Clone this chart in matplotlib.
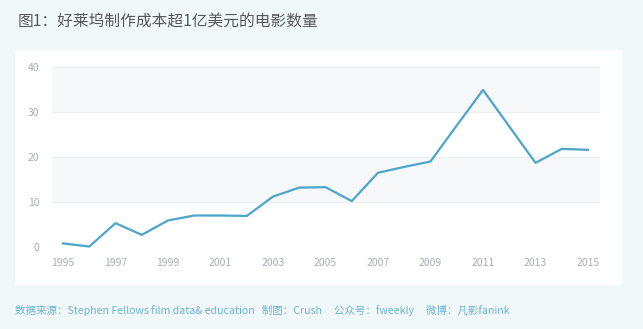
import matplotlib.pyplot as plt
from matplotlib.patches import Rectangle

plt.rcParams['font.family'] = ['Noto Sans CJK SC', 'DejaVu Sans']

years = list(range(1995, 2016))
counts = [0.8, 0.1, 5.3, 2.7, 5.9, 7.0, 7.0, 6.9, 11.2, 13.2, 13.3, 10.2,
          16.5, 17.8, 19.0, 27.0, 34.9, 26.8, 18.7, 21.8, 21.6]
yticks = [0, 10, 20, 30, 40]
xticks = list(range(1995, 2016, 2))

title = '图1：好莱坞制作成本超1亿美元的电影数量'
footer = '数据来源：Stephen Fellows film data& education   制图：Crush     公众号：fweekly     微博：凡影fanink'

W, H = 643, 329
fig = plt.figure(figsize=(W / 100, H / 100), dpi=100)
fig.patch.set_facecolor('#f1f8fa')

# white panel
fig.patches.append(Rectangle((15 / W, 1 - 285 / H), 607 / W, 235 / H,
                             transform=fig.transFigure, facecolor='white',
                             edgecolor='none', zorder=-5))

ax = fig.add_axes([52 / W, 1 - 247 / H, 548 / W, 180 / H])
ax.set_zorder(2)
ax.set_facecolor('white')

# alternating bands
for lo, hi in [(10, 20), (30, 40)]:
    ax.axhspan(lo, hi, color='#f7f8fa', zorder=0, lw=0)
for t in yticks:
    ax.axhline(t, color='#eceef1', lw=0.8, zorder=1)

ax.plot(years, counts, color='#4ca5cb', lw=1.6, zorder=3, clip_on=False)

ax.set_xlim(1995 - 11 / 26.25, 2015 + 12 / 26.25)
ax.set_ylim(0, 40)
ax.set_xticks(xticks)
ax.set_yticks(yticks)
ax.tick_params(length=0, colors='#a9adb3', labelsize=7.5)
ax.tick_params(axis='y', pad=9)
ax.tick_params(axis='x', pad=8)
for s in ax.spines.values():
    s.set_visible(False)

fig.text(18 / W, 1 - 22 / H, title, fontsize=11.3, color='#55585d',
         va='center', ha='left')
fig.text(15 / W, 1 - 310 / H, footer, fontsize=7.6, color='#6ab3d6',
         va='center', ha='left')

fig.savefig('out.png', dpi=100, facecolor=fig.get_facecolor())
